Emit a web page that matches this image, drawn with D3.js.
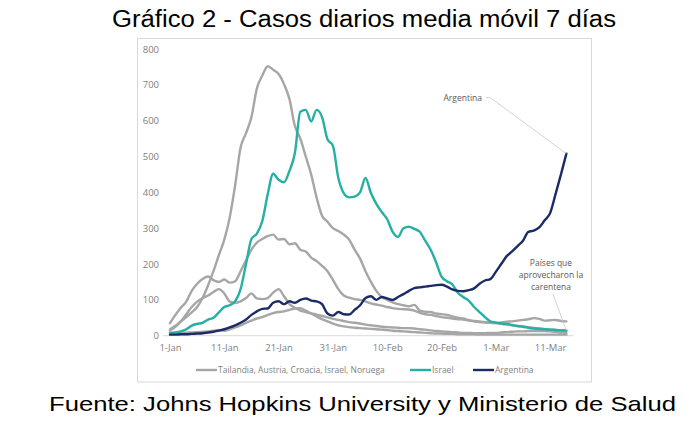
<!DOCTYPE html>
<html>
<head>
<meta charset="utf-8">
<script src="https://cdn.jsdelivr.net/npm/d3@7"></script>
<style>
  body { margin: 0; background: #fff; }
  svg text { font-family: "Open Sans", "Noto Sans", sans-serif; }
  .big { font-family: "Liberation Sans", Arial, sans-serif !important; fill: #000; }
</style>
</head>
<body>
<div id="root"></div>
<script>
const width = 700;
const height = 427;

// day index 0 = 1-Jan
const tickIdx = [0, 10, 20, 30, 40, 50, 60, 70];
const tickLabels = ["1-Jan", "11-Jan", "21-Jan", "31-Jan", "10-Feb", "20-Feb", "1-Mar", "11-Mar"];
const yTicks = [0, 100, 200, 300, 400, 500, 600, 700, 800];

const argentina = [3,3,4,4,5,6,7,9,11,14,18,23,29,36,45,58,68,75,76,92,
  96,88,96,92,100,104,98,96,88,62,56,66,60,59,72,85,105,110,100,108,
  104,100,108,116,125,133,135,137,139,141,142,137,129,125,124,127,132,145,154,158,
  178,200,222,235,250,265,290,293,302,322,342,395,450,508];

const israel = [8,9,12,18,28,33,36,45,50,65,80,85,96,130,200,270,285,320,395,452,
  435,428,460,510,625,630,598,630,610,548,530,440,398,386,388,400,440,398,368,345,
  325,290,276,300,304,298,290,265,240,205,165,152,143,120,108,98,80,66,52,40,
  37,34,33,30,27,25,22,20,19,18,17,16,15,14];

// Tailandia, Austria, Croacia, Israel, Noruega (gray group)
const gris1 = [18,28,40,52,65,80,105,140,180,225,268,330,420,525,565,610,690,726,752,742,
  730,702,660,585,550,500,450,385,335,318,300,292,282,268,240,215,180,150,125,108,
  100,93,88,85,82,86,70,67,66,62,60,58,54,50,48,44,41,40,38,36,
  35,37,39,40,42,44,46,49,47,42,43,44,41,40];
const gris2 = [35,58,78,95,125,145,158,165,155,150,157,148,152,180,210,240,260,270,278,282,
  268,270,255,258,240,235,218,208,195,180,156,130,112,106,102,100,96,90,87,84,
  80,77,75,74,73,70,64,60,58,55,52,50,48,46,45,42,40,38,37,36,
  35,33,31,29,27,26,24,22,20,18,17,16,15,14];
const gris3 = [15,25,40,60,80,95,105,112,122,130,118,95,92,96,105,118,104,102,105,120,
  130,110,88,78,70,66,62,59,55,51,47,44,41,38,36,34,31,29,27,25,
  24,23,22,21,21,20,18,17,15,13,12,11,10,9,8,8,7,7,7,8,
  8,9,10,11,12,12,13,13,13,13,12,11,9,7];
const gris4 = [8,8,8,9,9,10,11,12,14,16,14,18,23,29,36,42,48,52,58,63,
  66,68,72,76,77,70,62,54,46,40,34,29,26,24,22,21,20,19,18,17,
  16,14,13,12,11,10,9,8,7,6,6,5,5,4,4,4,4,3,3,3,
  3,3,3,3,3,3,3,3,3,3,3,3,3,3];

const grayColor = "#a6a6a6";
const tealColor = "#25b0a3";
const navyColor = "#1c2b66";
const textColor = "#7f7f7f";

const svg = d3.select("#root").append("svg")
  .attr("width", width)
  .attr("height", height);

// Title and source
svg.append("text")
  .attr("class", "big")
  .attr("x", 112).attr("y", 27)
  .attr("font-size", 23.5)
  .attr("textLength", 504)
  .attr("lengthAdjust", "spacingAndGlyphs")
  .text("Gráfico 2 - Casos diarios media móvil 7 días");

svg.append("text")
  .attr("class", "big")
  .attr("x", 49).attr("y", 411)
  .attr("font-size", 21)
  .attr("textLength", 627)
  .attr("lengthAdjust", "spacingAndGlyphs")
  .text("Fuente: Johns Hopkins University y Ministerio de Salud");

// Chart frame
svg.append("rect")
  .attr("x", 137.5).attr("y", 38.5)
  .attr("width", 454).attr("height", 343.5)
  .attr("fill", "none")
  .attr("stroke", "#d9d9d9");

const x = d3.scaleLinear().domain([0, 73]).range([170, 566.4]);
const y = d3.scaleLinear().domain([0, 800]).range([335.7, 49]);

// Axes
const yAxis = svg.append("g")
  .attr("transform", "translate(162,0)")
  .call(d3.axisLeft(y).tickValues(yTicks).tickSize(0).tickPadding(3));
yAxis.select(".domain").remove();

const xAxis = svg.append("g")
  .attr("transform", `translate(0,${y(0)})`)
  .call(d3.axisBottom(x).tickValues(tickIdx)
    .tickFormat((d, i) => tickLabels[i]).tickSize(0).tickPadding(9));
xAxis.select(".domain").remove();

svg.selectAll(".tick text")
  .attr("fill", textColor)
  .attr("font-size", 9.5)
  .attr("font-family", "'Open Sans', sans-serif");

svg.append("line")
  .attr("x1", x(-1.3)).attr("x2", x(74.3))
  .attr("y1", y(0)).attr("y2", y(0))
  .attr("stroke", "#d9d9d9");

// Lines
const line = d3.line()
  .x((d, i) => x(i))
  .y((d) => y(d))
  .curve(d3.curveMonotoneX);

const series = [
  { values: gris4, color: grayColor },
  { values: gris3, color: grayColor },
  { values: gris2, color: grayColor },
  { values: gris1, color: grayColor },
  { values: israel, color: tealColor },
  { values: argentina, color: navyColor },
];

svg.selectAll("path.serie")
  .data(series)
  .enter()
  .append("path")
  .attr("class", "serie")
  .attr("d", (s) => line(s.values))
  .attr("fill", "none")
  .attr("stroke", (s) => s.color)
  .attr("stroke-width", 2.4)
  .attr("stroke-linejoin", "round")
  .attr("stroke-linecap", "round");

// Annotations
const last = argentina.length - 1;
svg.append("polyline")
  .attr("points", [[486, 97.5], [490, 97.5], [x(last), y(argentina[last])]].map((p) => p.join(",")).join(" "))
  .attr("fill", "none")
  .attr("stroke", "#c8c8c8")
  .attr("stroke-width", 0.8);
svg.append("text")
  .attr("x", 482).attr("y", 101)
  .attr("text-anchor", "end")
  .attr("font-size", 8.5)
  .attr("fill", "#595959")
  .text("Argentina");

svg.append("line")
  .attr("x1", 553).attr("y1", 294)
  .attr("x2", x(last)).attr("y2", y(israel[last]))
  .attr("stroke", "#c8c8c8")
  .attr("stroke-width", 0.8);
const note = svg.append("text")
  .attr("text-anchor", "middle")
  .attr("font-size", 8.5)
  .attr("fill", "#595959");
["Países que", "aprovecharon la", "carentena"].forEach((t, i) => {
  note.append("tspan").attr("x", 551).attr("y", 265.5 + i * 12).text(t);
});

// Legend
const legendItems = [
  { label: "Tailandia, Austria, Croacia, Israel, Noruega", color: grayColor, x: 196 },
  { label: "Israel", color: tealColor, x: 410 },
  { label: "Argentina", color: navyColor, x: 473 },
];
const legend = svg.append("g").attr("transform", "translate(0,370)");
legendItems.forEach((item) => {
  legend.append("line")
    .attr("x1", item.x).attr("x2", item.x + 21)
    .attr("stroke", item.color)
    .attr("stroke-width", 2.4);
  legend.append("text")
    .attr("x", item.x + 22).attr("y", 3)
    .attr("font-size", 8.5)
    .attr("fill", textColor)
    .text(item.label);
});
</script>
</body>
</html>
